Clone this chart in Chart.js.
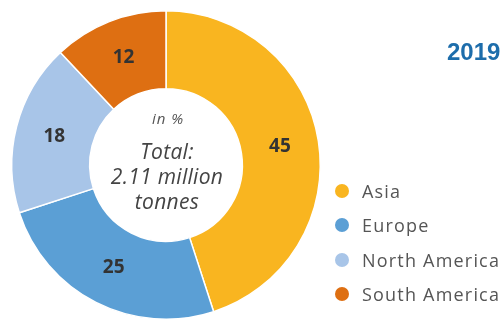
<!DOCTYPE html>
<html>
<head>
<meta charset="utf-8">
<script src="https://cdn.jsdelivr.net/npm/chart.js@4"></script>
<style>
  html, body { margin: 0; padding: 0; background: #fff; }
  #wrap { position: relative; width: 502px; height: 322px; overflow: hidden; }
  #c { position: absolute; left: 0; top: 0; }
  #title { position: absolute; left: 447px; top: 40px; line-height: 24px; font-weight: bold; font-size: 24px; font-family: "Liberation Sans Narrow", "Arial Narrow", sans-serif; font-stretch: condensed; color: #1d6dab; }
  #legend { position: absolute; left: 333px; top: 178px; font: 18px "Open Sans", sans-serif; color: #555; letter-spacing: 1.2px; }
  .item { position: relative; height: 34.4px; line-height: 26px; padding-left: 29px; white-space: nowrap; }
  .dot { position: absolute; left: 2px; top: 6px; width: 14px; height: 14px; border-radius: 50%; }
</style>
</head>
<body>
<div id="wrap">
  <canvas id="c" width="502" height="322"></canvas>
  <div id="title"></div>
  <div id="legend"></div>
</div>
<script>
const categories = ["Asia", "Europe", "North America", "South America"];
const shares = [45, 25, 18, 12];
const colors = ["#F9B520", "#5B9FD5", "#A8C5E8", "#DE6F12"];
const year = "2019";
const centerLines = ["Total:", "2.11 million", "tonnes"];
const unitLabel = "in %";

document.getElementById("title").textContent = year;
const legend = document.getElementById("legend");
categories.forEach((c, i) => {
  const d = document.createElement("div");
  d.className = "item";
  d.innerHTML = '<span class="dot" style="background:' + colors[i] + '"></span>' + c;
  legend.appendChild(d);
});

const labelPlugin = {
  id: "labels",
  afterDatasetsDraw(chart) {
    const ctx = chart.ctx;
    const meta = chart.getDatasetMeta(0);
    ctx.save();
    ctx.font = "bold 19px 'Open Sans', sans-serif";
    ctx.fillStyle = "#333";
    ctx.textAlign = "center";
    ctx.textBaseline = "middle";
    meta.data.forEach((arc, i) => {
      const p = arc.tooltipPosition();
      ctx.fillText(String(chart.data.datasets[0].data[i]), p.x, p.y);
    });
    const a = meta.data[0];
    const cx = a.x, cy = a.y;
    ctx.fillStyle = "#555";
    ctx.font = "italic 15px 'Open Sans', sans-serif";
    ctx.letterSpacing = "1px";
    ctx.fillText(unitLabel, cx + 2, cy - 45);
    ctx.fillStyle = "#444";
    ctx.font = "italic 21px 'Open Sans', sans-serif";
    ctx.letterSpacing = "0.3px";
    centerLines.forEach((t, i) => ctx.fillText(t, cx + 1, cy - 12 + i * 25));
    ctx.restore();
  }
};

new Chart(document.getElementById("c"), {
  type: "doughnut",
  data: {
    labels: categories,
    datasets: [{
      data: shares,
      backgroundColor: colors,
      borderColor: "#fff",
      borderWidth: 1.5
    }]
  },
  options: {
    responsive: false,
    animation: false,
    cutout: "49.5%",
    layout: { padding: { left: 11, top: 10, right: 181, bottom: 2 } },
    plugins: { legend: { display: false }, tooltip: { enabled: false } }
  },
  plugins: [labelPlugin]
});
</script>
</body>
</html>
